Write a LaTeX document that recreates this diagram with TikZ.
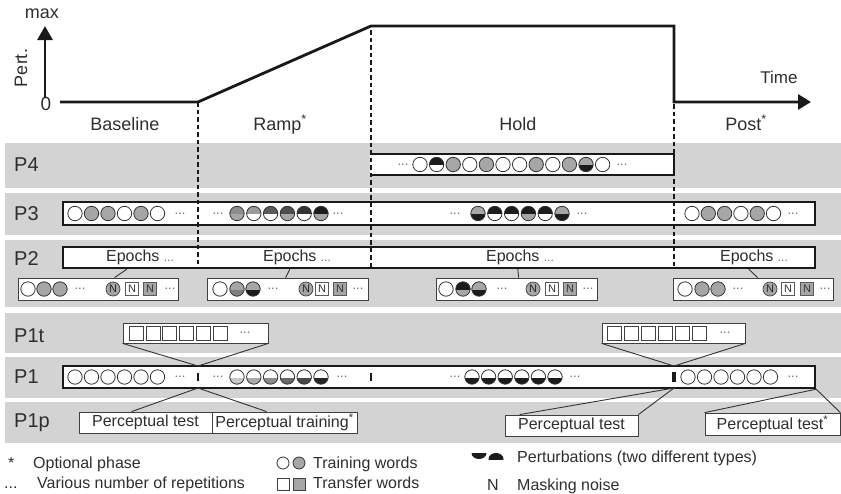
\documentclass[tikz,border=0pt]{standalone}
\usepackage{fontspec}
\setmainfont{Liberation Sans}
\usetikzlibrary{arrows.meta,calc}
\definecolor{band}{HTML}{D3D3D3}
\definecolor{cG}{HTML}{A6A6A6}
\definecolor{cK}{HTML}{1C1C1C}
\definecolor{txt}{HTML}{2E2E2E}
\definecolor{dotc}{HTML}{6E6E6E}
\definecolor{sA}{HTML}{8C8C8C}
\definecolor{sB}{HTML}{9A9A9A}
\definecolor{sC}{HTML}{5A5A5A}
\definecolor{sD}{HTML}{4D4D4D}
\definecolor{sE}{HTML}{333333}
\definecolor{rA}{HTML}{C8C8C8}
\definecolor{rB}{HTML}{AAAAAA}
\definecolor{rC}{HTML}{8C8C8C}
\definecolor{rD}{HTML}{6A6A6A}
\definecolor{rE}{HTML}{484848}
\definecolor{rF}{HTML}{262626}
\definecolor{mG}{HTML}{7F7F7F}
\newcommand\halfc[4]{%
  \fill[#4] (#1,#2) circle[radius=7.2pt];
  \begin{scope}\clip ({#1-10},{#2-10}) rectangle ({#1+10},#2);\fill[#3] (#1,#2) circle[radius=7.2pt];\end{scope}
  \draw[black!80,line width=0.8pt] (#1,#2) circle[radius=7.2pt];}
\newcommand\sqr[3]{\filldraw[fill=#3,draw=black!75,line width=0.8pt] ({#1-7},{#2-7}) rectangle ({#1+7},{#2+7});}
\newcommand\dts[3]{\node[dotsty] (#1) at (#2,#3) {...};}
\newcommand\ncirc[3]{\node[ncircle] (#1) at (#2,#3) {N};}
\newcommand\nsq[4]{\node[nsquare,fill=#4] (#1) at (#2,#3) {N};}
\begin{document}
\begin{tikzpicture}[x=1pt,y=-1pt,
  plab/.style={font=\fontsize{20}{24}\selectfont, text=txt, anchor=base west, inner sep=0pt},
  phase/.style={font=\fontsize{18}{22}\selectfont, text=txt, anchor=base, inner sep=0pt},
  btext/.style={font=\fontsize{16}{19}\selectfont, text=txt},
  leg/.style={font=\fontsize{16}{19}\selectfont, text=txt, anchor=base west, inner sep=0pt},
  dotsty/.style={font=\fontsize{13}{13}\selectfont, text=dotc, inner sep=0pt},
  ncircle/.style={circle, fill=cG, draw=black!75, line width=0.7pt, minimum size=14pt, inner sep=0pt, font=\fontsize{11}{11}\selectfont, text=black!85},
  nsquare/.style={rectangle, draw=black!65, line width=0.7pt, minimum size=13.5pt, inner sep=0pt, font=\fontsize{11}{11}\selectfont, text=black!80},
  thickbox/.style={draw=black!90, line width=2.4pt, fill=white, inner sep=0pt},
  thinbox/.style={draw=black!75, line width=0.8pt, fill=white, inner sep=0pt},
  dashline/.style={line width=2.3pt, dash pattern=on 4.5pt off 3pt, draw=black!90},
  conn/.style={draw=black!80, line width=0.9pt},
  graphline/.style={line width=2.8pt, line join=miter, draw=black!90}
]
\useasboundingbox (0,0) rectangle (841,493);
% bands
\foreach \ya/\yb in {143/188,193/235,240/307,313/353,357/398,402/443}
  \fill[band] (5,\ya) rectangle (841,\yb);
% top graph
\node[phase, anchor=base] (lmax) at (42,18) {max};
\node[phase, rotate=90, anchor=center] (lpert) at (21,68) {Pert.};
\node[font=\fontsize{19}{22}\selectfont, text=txt, anchor=base, inner sep=0pt] (lzero) at (46,110) {0};
\node[font=\fontsize{17}{20}\selectfont, text=txt, anchor=base, inner sep=0pt] (ltime) at (779,83) {Time};
\draw[graphline, -{Triangle[length=14pt,width=15pt]}] (45,98) -- (45,26);
\draw[graphline, -{Triangle[length=13pt,width=15pt]}] (60,102) -- (198,102) -- (371,26) -- (674,26) -- (674,102) -- (811,102);
\node[phase] (lbase) at (125,130) {Baseline};
\node[phase] (lramp) at (280,130) {Ramp\textsuperscript{*}};
\node[phase] (lhold) at (518,130) {Hold};
\node[phase] (lpost) at (746,130) {Post\textsuperscript{*}};
% band labels
\node[plab] (lP4) at (14,171) {P4};
\node[plab] (lP3) at (14,220) {P3};
\node[plab] (lP2) at (14,265) {P2};
\node[plab] (lP1t) at (14,342) {P1t};
\node[plab] (lP1) at (14,383) {P1};
\node[plab] (lP1p) at (14,427) {P1p};
% boxes
\node[fill=white, minimum width=304pt, minimum height=21pt, inner sep=0pt] (p4box) at (522,164.5) {};
\draw[draw=black!90, line width=2.4pt] (p4box.north west) -- (p4box.north east) -- (p4box.south east) -- (p4box.south west);
\node[thickbox, minimum width=752pt, minimum height=23pt] (p3box) at (439,213.5) {};
\node[thickbox, minimum width=752pt, minimum height=21pt] (epbox) at (439,257.5) {};
\node[thickbox, minimum width=752pt, minimum height=22pt] (p1box) at (439,377) {};
\node[thinbox, minimum width=160pt, minimum height=22pt] (sb1) at (98,289) {};
\node[thinbox, minimum width=161pt, minimum height=22pt] (sb2) at (287.5,289) {};
\node[thinbox, minimum width=161pt, minimum height=22pt] (sb3) at (516.5,289) {};
\node[thinbox, minimum width=160pt, minimum height=22pt] (sb4) at (753,289) {};
\node[thinbox, minimum width=145pt, minimum height=20pt] (ta) at (195.5,333) {};
\node[thinbox, minimum width=143pt, minimum height=20pt] (tb) at (673.5,333) {};
\node[thinbox, btext, minimum width=133pt, minimum height=21pt] (pa) at (145.5,422.5) {Perceptual test};
\node[thinbox, btext, minimum width=145pt, minimum height=21pt] (pb) at (284.5,422.5) {Perceptual training\textsuperscript{*}};
\node[thinbox, btext, minimum width=133pt, minimum height=21pt] (pc) at (571.5,425.5) {Perceptual test};
\node[thinbox, btext, minimum width=135pt, minimum height=22pt] (pd) at (772.5,424) {Perceptual test\textsuperscript{*}};
% dashed phase boundaries
\draw[dashline] (198,102) -- (198,268);
\draw[dashline] (371,30) -- (371,268);
\draw[dashline] (674,104) -- (674,268);
% P1 marks
\fill[black!90] (196.8,372.5) rectangle (199.2,381);
\fill[black!90] (369.8,372.5) rectangle (372.2,381);
\fill[black!90] (672.3,372) rectangle (675.7,381.5);
% epochs labels
\node[btext, inner sep=0pt] (ep1) at (140,257.5) {Epochs {\color{dotc}\fontsize{12}{12}\selectfont...}};
\node[btext, inner sep=0pt] (ep2) at (297,257.5) {Epochs {\color{dotc}\fontsize{12}{12}\selectfont...}};
\node[btext, inner sep=0pt] (ep3) at (520,257.5) {Epochs {\color{dotc}\fontsize{12}{12}\selectfont...}};
\node[btext, inner sep=0pt] (ep4) at (754,257.5) {Epochs {\color{dotc}\fontsize{12}{12}\selectfont...}};
% P4 row
\dts{d41}{403}{164.5}
\foreach \tp/\bt [count=\k from 0] in {white/white, cK/white, cG/cG, white/white, cG/cG, white/white, white/white, cG/cG, white/white, cG/cG, cG/cK, white/white}
  {\halfc{420+16.6*\k}{164.5}{\tp}{\bt}}
\dts{d42}{622}{164.5}
% P3 row
\foreach \tp/\bt [count=\k from 0] in {white/white, cG/cG, cG/cG, white/white, cG/cG, white/white}
  {\halfc{75+16.5*\k}{213.5}{\tp}{\bt}}
\dts{d31}{180}{213.5}
\dts{d32}{218}{213.5}
\foreach \tp/\bt [count=\k from 0] in {sA/cG, sB/white, sC/white, sD/cG, sE/white, cK/cG}
  {\halfc{237+16.8*\k}{213.5}{\tp}{\bt}}
\dts{d33}{338}{213.5}
\dts{d34}{455}{213.5}
\foreach \tp/\bt [count=\k from 0] in {cG/cK, cK/white, cK/white, cK/cG, cK/white, cG/cK}
  {\halfc{478+16.8*\k}{213.5}{\tp}{\bt}}
\dts{d35}{582}{213.5}
\foreach \tp/\bt [count=\k from 0] in {white/white, cG/cG, cG/cG, white/white, cG/cG, white/white}
  {\halfc{692+16.3*\k}{213.5}{\tp}{\bt}}
\dts{d36}{793}{213.5}
% P2 sub-boxes
\halfc{28}{289}{white}{white}\halfc{44}{289}{cG}{cG}\halfc{60}{289}{cG}{cG}
\dts{d21}{80}{289}\ncirc{n1}{113}{289}\nsq{q11}{132}{289}{white}\nsq{q12}{150}{289}{cG}\dts{d22}{170}{289}
\halfc{220}{289}{white}{white}\halfc{237}{289}{cG}{mG}\halfc{253}{289}{cG}{cK}
\dts{d23}{273}{289}\ncirc{n2}{306}{289}\nsq{q21}{322}{289}{white}\nsq{q22}{340}{289}{cG}\dts{d24}{358}{289}
\halfc{446}{289}{white}{white}\halfc{463}{289}{cK}{cG}\halfc{479}{289}{cG}{cK}
\dts{d25}{502}{289}\ncirc{n3}{533}{289}\nsq{q31}{552}{289}{white}\nsq{q32}{570}{289}{cG}\dts{d26}{588}{289}
\halfc{685}{289}{white}{white}\halfc{702}{289}{cG}{cG}\halfc{718}{289}{cG}{cG}
\dts{d27}{738}{289}\ncirc{n4}{770}{289}\nsq{q41}{788}{289}{white}\nsq{q42}{807}{289}{cG}\dts{d28}{825}{289}
% P2 connectors
\draw[conn] ($(epbox.south west)+(65,0)$) -- ($(sb1.north west)+(97,0)$);
\draw[conn] ($(epbox.south west)+(228,0)$) -- ($(sb2.north west)+(79,0)$);
\draw[conn] ($(epbox.south west)+(456,0)$) -- ($(sb3.north west)+(83,0)$);
\draw[conn] ($(epbox.south west)+(687,0)$) -- ($(sb4.north west)+(85,0)$);
% P1t squares
\foreach \k in {0,...,5} {\sqr{136+16.9*\k}{333}{white}}
\dts{dt1}{245}{333}
\foreach \k in {0,...,5} {\sqr{614+17*\k}{333}{white}}
\dts{dt2}{725}{333}
% P1 row
\foreach \k in {0,...,5} {\halfc{75+16.5*\k}{377}{white}{white}}
\dts{d11}{180}{377}
\dts{d12}{218}{377}
\foreach \bt [count=\k from 0] in {rA,rB,rC,rD,rE,rF} {\halfc{237+16.8*\k}{377}{white}{\bt}}
\dts{d13}{342}{377}
\dts{d14}{455}{377}
\foreach \k in {0,...,5} {\halfc{472+16.6*\k}{377}{white}{cK}}
\dts{d15}{575}{377}
\foreach \k in {0,...,5} {\halfc{688+16.5*\k}{377}{white}{white}}
\dts{d16}{793}{377}
% P1t / P1p connectors
\coordinate (j1) at (198,366);
\coordinate (j2) at (674,366);
\coordinate (k1) at (198,388);
\coordinate (k2) at (674,388);
\draw[conn] (ta.south west) -- (j1) -- (ta.south east);
\draw[conn] (tb.south west) -- (j2) -- (tb.south east);
\draw[conn] ($(pa.north west)+(53,0)$) -- (k1) -- ($(pb.north west)+(55,0)$);
\draw[conn] ($(pc.north west)+(15,0)$) -- (k2) -- (pc.north east);
\draw[conn] (pd.north west) -- (p1box.south east) -- (pd.north east);
% legend
\node[leg] (lgs) at (8,468) {*};
\node[leg] (lgs2) at (33,468) {Optional phase};
\node[leg] (lgd) at (4,488) {...};
\node[leg] (lgd2) at (37,488) {Various number of repetitions};
\filldraw[fill=white, draw=black!80, line width=0.8pt] (283,463) circle[radius=6pt];
\filldraw[fill=cG, draw=black!80, line width=0.8pt] (299,463) circle[radius=6pt];
\filldraw[fill=white, draw=black!75, line width=0.8pt] (277,478) rectangle (289,490);
\filldraw[fill=cG, draw=black!75, line width=0.8pt] (293,478) rectangle (305,490);
\node[leg] (lgt) at (313,468) {Training words};
\node[leg] (lgt2) at (313,488) {Transfer words};
\begin{scope}\clip (470,453) rectangle (488,462);\fill[cK] (479,453) ellipse[x radius=7.5pt, y radius=6pt];\end{scope}
\begin{scope}\clip (487,450) rectangle (505,459);\fill[cK] (496,459) ellipse[x radius=7.5pt, y radius=6pt];\end{scope}
\node[leg] (lgp) at (517,462) {Perturbations (two different types)};
\node[leg, anchor=base] (lgn) at (493,490) {N};
\node[leg] (lgn2) at (517,490) {Masking noise};
\end{tikzpicture}
\end{document}
